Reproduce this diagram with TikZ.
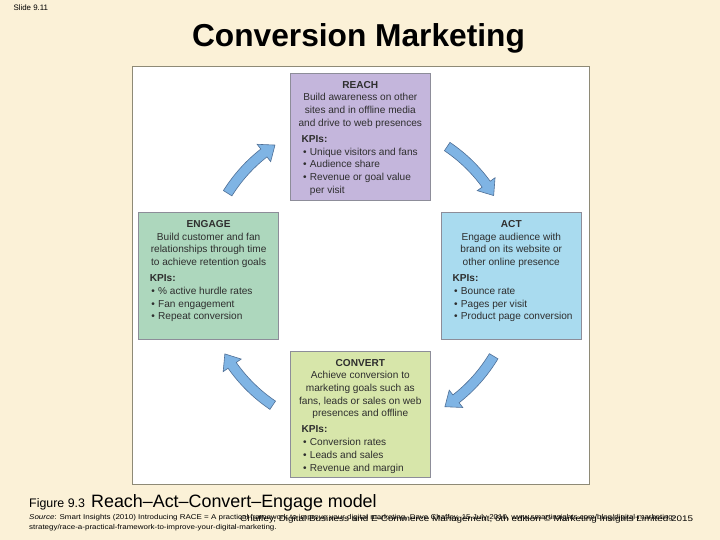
\documentclass[tikz,border=0pt]{standalone}
\usepackage{fontspec}
\setmainfont{Liberation Sans}
\newfontfamily\srcfont[FakeStretch=1.14]{Liberation Sans}
\newfontfamily\creditfont[FakeStretch=1.22]{Liberation Sans}
\usetikzlibrary{positioning, calc}
\definecolor{cpage}{HTML}{FBF1D7}
\definecolor{cframe}{HTML}{8E8A76}
\definecolor{creach}{HTML}{C4B6DC}
\definecolor{cact}{HTML}{A9DBEF}
\definecolor{cconvert}{HTML}{D7E6AA}
\definecolor{cengage}{HTML}{ADD7BD}
\definecolor{cedge}{HTML}{8D8D99}
\definecolor{ctext}{HTML}{2E2E2E}
\definecolor{carrow}{HTML}{7FB4E4}
\definecolor{carrowedge}{HTML}{4F6F96}
\tikzset{
  every picture/.style={x=1pt, y=1pt},
  stage/.style={draw=cedge, fill=#1, line width=0.8pt, inner sep=0pt, minimum width=139.5pt, minimum height=126.8pt, text=ctext},
  cyc/.style={fill=carrow, draw=carrowedge, line width=0.6pt, line join=miter},
  src/.style={font=\srcfont\fontsize{7}{8}\selectfont, anchor=base west, inner sep=0pt},
  lbl/.style={anchor=base west, inner sep=0pt},
}
\newcommand{\stagebody}[3]{%
  \parbox[c][126.8pt][t]{127pt}{\fontsize{10.1}{12.7}\selectfont
    \vspace*{8pt}\centering\textbf{#1}\\#2\par\vspace{3.3pt}
    \raggedright\leftskip=4.8pt\textbf{KPIs:}#3\par}}
\newcommand{\kpi}[1]{\par\hspace*{1.5pt}\makebox[6.8pt][l]{\textbullet}#1}

\begin{document}
\begin{tikzpicture}
  \fill[cpage] (0,0) rectangle (720,540);
  \useasboundingbox (0,0) rectangle (720,540);
  \node[lbl, font=\fontsize{7.9}{9}\selectfont] (slide) at (13.3,529.5) {Slide 9.11};
  \node[font=\fontsize{31.7}{36}\selectfont\bfseries, anchor=base, inner sep=0pt] (title) at (358.5,493) {Conversion Marketing};
  \node[draw=cframe, fill=white, line width=0.8pt, minimum width=456.3pt, minimum height=418pt, inner sep=0pt] (panel) at (360.85,265) {};
  % the four stages of the cycle
  \node[stage=creach] (reach) at (360.3,403.4) {\stagebody{REACH}
    {Build awareness on other\\sites and in offline media\\and drive to web presences}
    {\kpi{Unique visitors and fans}\kpi{Audience share}\kpi{Revenue or goal value\\\hspace*{8.3pt}per visit}}};
  \node[stage=cengage, below left=11.7pt and 11.4pt of reach] (engage) {\stagebody{ENGAGE}
    {Build customer and fan\\relationships through time\\to achieve retention goals}
    {\kpi{\% active hurdle rates}\kpi{Fan engagement}\kpi{Repeat conversion}}};
  \node[stage=cact, below right=11.7pt and 10.7pt of reach] (act) {\stagebody{ACT}
    {Engage audience with\\brand on its website or\\other online presence}
    {\kpi{Bounce rate}\kpi{Pages per visit}\kpi{Product page conversion}}};
  \node[stage=cconvert, below right=11pt and 11.4pt of engage] (convert) {\stagebody{CONVERT}
    {Achieve conversion to\\marketing goals such as\\fans, leads or sales on web\\presences and offline}
    {\kpi{Conversion rates}\kpi{Leads and sales}\kpi{Revenue and margin}}};
  % curved arrows round the hub
  \coordinate (hub) at ($(engage.east)!0.5!(act.west)$);
  \foreach \s/\e in {148/123, 56/31, -31/-57, -124/-150} {
    \pgfmathsetmacro\h{\e+5}
    \filldraw[cyc] ($(hub)+(\s:161pt)$) arc[start angle=\s, end angle=\h, radius=161pt]
      -- ($(hub)+(\h:167pt)$) -- ($(hub)+(\e:156pt)$) -- ($(hub)+(\h:145pt)$) -- ($(hub)+(\h:151pt)$)
      arc[start angle=\h, end angle=\s, radius=151pt] -- cycle;
  }
  % caption and source
  \node[lbl, font=\fontsize{12.4}{14}\selectfont] (fig) at (29,32.3) {Figure 9.3};
  \node[lbl, font=\fontsize{17.9}{20}\selectfont, xshift=5.7pt] (caption) at (fig.base east) {Reach–Act–Convert–Engage model};
  \node[src] (src1) at (29,20.5) {\textit{Source}: Smart Insights (2010) Introducing RACE = A practical framework to improve your digital marketing, Dave Chaffey, 15 July 2010, www.smartinsights.com/blog/digital-marketing-};
  \node[src] (src2) at (29,10.5) {strategy/race-a-practical-framework-to-improve-your-digital-marketing.};
  \node[src, font=\creditfont\fontsize{8.1}{9}\selectfont] (credit) at (240,18) {Chaffey, Digital Business and E-Commerce Management, 6th edition © Marketing Insights Limited 2015};
\end{tikzpicture}
\end{document}
